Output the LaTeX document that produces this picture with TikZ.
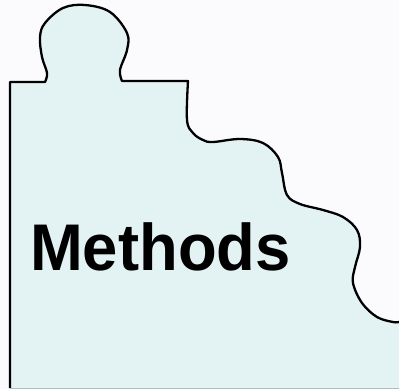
\documentclass[tikz,border=0pt]{standalone}
\usepackage{fontspec}
\setmainfont{Liberation Sans}
\begin{document}
\begin{tikzpicture}[x=1pt,y=-1pt,
  piece/.style={draw=black,line width=2.3pt,line join=round},
  title/.style={font=\bfseries\fontsize{66}{66}\selectfont,text=black,inner sep=0pt,anchor=base west,xscale=0.96}]
\definecolor{pieceFill}{HTML}{E3F3F4}
\definecolor{paper}{HTML}{FBFBFD}
\definecolor{rim}{HTML}{A9BFC0}
\useasboundingbox (0,0) rectangle (399,389);
\fill[paper] (0,0) rectangle (399,389);
% puzzle piece body
\fill[pieceFill] (10,82) -- (45,82)
  -- plot[smooth,tension=0.6] coordinates {(45,82) (47,73) (42,57) (40,37) (45,23) (63,8) (85,5) (110,12) (127,33) (127,50) (120,70) (122,81)}
  -- (188,81)
  -- plot[smooth,tension=0.6] coordinates {(188,81) (187,120) (193,133) (203,140) (213,142) (240,139) (263,143) (278,157) (282,173) (287,195) (300,204) (323,210) (343,217) (357,230) (360,247) (355,267) (353,283) (362,303) (377,317) (393,322) (399,322)}
  -- (399,388) -- (10,388) -- cycle;
% outline: left, top with knob, wavy right side
\draw[piece] (10,388) -- (10,82) -- (45,82)
  -- plot[smooth,tension=0.6] coordinates {(45,82) (47,73) (42,57) (40,37) (45,23) (63,8) (85,5) (110,12) (127,33) (127,50) (120,70) (122,81)}
  -- (188,81)
  -- plot[smooth,tension=0.6] coordinates {(188,81) (187,120) (193,133) (203,140) (213,142) (240,139) (263,143) (278,157) (282,173) (287,195) (300,204) (323,210) (343,217) (357,230) (360,247) (355,267) (353,283) (362,303) (377,317) (393,322) (399,322)};
\draw[rim,line width=1pt] (10,388) -- (399,388);
\node[title] (label) at (30,270) {Methods};
\end{tikzpicture}
\end{document}
